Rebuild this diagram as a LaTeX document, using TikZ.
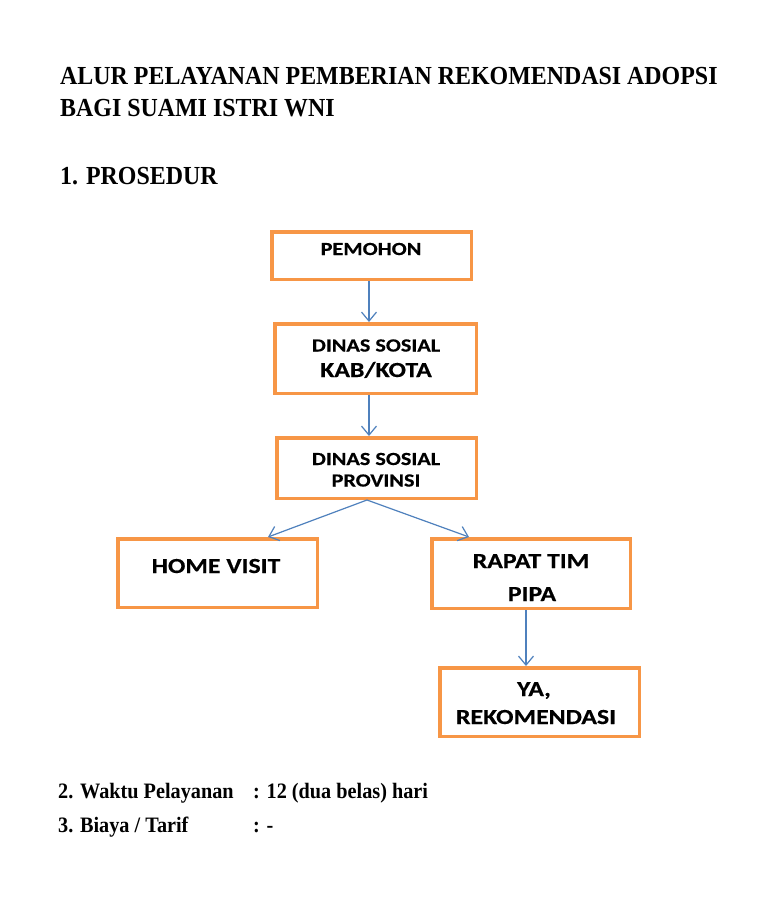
\documentclass[tikz,border=0pt]{standalone}
\usepackage{fontspec}
\usetikzlibrary{arrows.meta}
\newfontfamily\boxfont[FakeStretch=1.2, BoldFeatures={FakeBold=0.4}]{Carlito}
\newfontfamily\titlefont[FakeStretch=0.92]{Liberation Serif}
\definecolor{boxorange}{HTML}{F79646}
\definecolor{arrblue}{HTML}{4F81BD}
\tikzset{
 box/.style={draw=boxorange, line width=3.5pt, inner sep=0pt, fill=white},
 arr/.style={draw=arrblue, line width=1.2pt, -{Straight Barb[length=9pt,width=15pt]}},
 small/.style={font=\boxfont\bfseries\fontsize{18.5}{20}\selectfont, anchor=base, inner sep=0pt},
 big/.style={font=\boxfont\bfseries\fontsize{21.5}{24}\selectfont, anchor=base, inner sep=0pt},
 title/.style={font=\titlefont\bfseries\fontsize{26}{30}\selectfont, anchor=base west, inner sep=0pt},
 body/.style={font=\titlefont\bfseries\fontsize{22}{26}\selectfont, anchor=base west, inner sep=0pt},
}
\begin{document}
\begin{tikzpicture}[x=1pt,y=-1pt]
\useasboundingbox (0,0) rectangle (768,905);
\fill[white] (0,0) rectangle (768,905);
% boxes
\node[box, minimum width=199.5pt, minimum height=47.5pt] (pem) at (371.5,255.5) {};
\node[box, minimum width=201.5pt, minimum height=69.5pt] (kab) at (375.5,358.5) {};
\node[box, minimum width=199.5pt, minimum height=60.5pt] (prov) at (376.5,468) {};
\node[box, minimum width=199.5pt, minimum height=68.5pt] (home) at (217.5,573) {};
\node[box, minimum width=198.5pt, minimum height=69.5pt] (rapat) at (531,573.5) {};
\node[box, minimum width=199.5pt, minimum height=68.5pt] (ya) at (539.5,702) {};
% texts in boxes
\node[small] (t1) at (371,255) {PEMOHON};
\node[small] (t2) at (376,351.5) {DINAS SOSIAL};
\node[big] (t3) at (376,377) {KAB/KOTA};
\node[small] (t4) at (376,465) {DINAS SOSIAL};
\node[small] (t5) at (376,486.5) {PROVINSI};
\node[big] (t6) at (216,573) {HOME VISIT};
\node[big] (t7) at (531,568) {RAPAT TIM};
\node[big] (t8) at (532,601) {PIPA};
\node[big] (t9) at (534,696) {YA,};
\node[big] (t10) at (536,724) {REKOMENDASI};
% arrows
\draw[arr] ([xshift=-2.5pt]pem.south) -- ([xshift=-2.5pt]pem.south |- kab.north);
\draw[arr] ([xshift=-6.5pt]kab.south) -- ([xshift=-6.5pt]kab.south |- prov.north);
\draw[arr] ([xshift=-9.5pt]prov.south) -- ([xshift=50.5pt]home.north);
\draw[arr] ([xshift=-9.5pt]prov.south) -- ([xshift=-62pt]rapat.north);
\draw[arr] ([xshift=-5pt]rapat.south) -- ([xshift=-5pt]rapat.south |- ya.north);
% headings
\node[title] (h1) at (60,84) {ALUR PELAYANAN PEMBERIAN REKOMENDASI ADOPSI};
\node[title] (h2) at (60,116.5) {BAGI SUAMI ISTRI WNI};
\node[title] (h3) at (60,184) {1. PROSEDUR};
\node[body] (b1) at (58,798) {2. Waktu Pelayanan};
\node[body] (b2) at (253,798) {: 12 (dua belas) hari};
\node[body] (b3) at (58,832) {3. Biaya / Tarif};
\node[body] (b4) at (253,832) {: -};
\end{tikzpicture}
\end{document}
